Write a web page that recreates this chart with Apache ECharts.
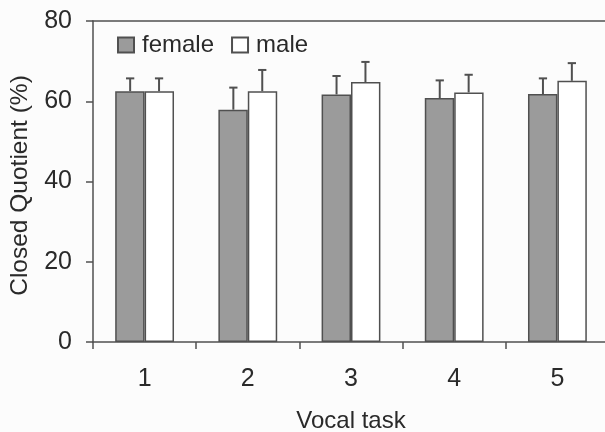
<!DOCTYPE html>
<html>
<head>
<meta charset="utf-8">
<script src="https://cdn.jsdelivr.net/npm/echarts@6/dist/echarts.min.js"></script>
<style>
html,body{margin:0;padding:0;background:#fcfcfc;}
#c{width:605px;height:432px;}
</style>
</head>
<body>
<div id="c"></div>
<script>
const categories = ['1', '2', '3', '4', '5'];
const femaleMean = [62.5, 57.9, 61.7, 60.8, 61.8];
const femaleSD = [3.2, 5.5, 4.6, 4.4, 3.9];
const maleMean = [62.5, 62.5, 64.8, 62.2, 65.1];
const maleSD = [3.2, 5.3, 5.0, 4.4, 4.4];
const yTicks = [0, 20, 40, 60, 80];

const FONT = '"Liberation Sans", Arial, sans-serif';
const TXT = '#2a2a2a';
const LINE = '#505050';

function errItems(mean, sd) {
  return mean.map((m, i) => [i, m, sd[i]]);
}
function makeErr(sign) {
  return function (params, api) {
    const idx = api.value(0), m = api.value(1), s = api.value(2);
    const band = api.size([1, 0])[0];
    const base = api.coord([idx, m]);
    const top = api.coord([idx, m + s]);
    const x = base[0] + sign * band * 0.14;
    const cap = band * 0.04;
    return {
      type: 'group',
      children: [
        { type: 'line', shape: { x1: x, y1: base[1], x2: x, y2: top[1] }, style: { stroke: LINE, lineWidth: 2 } },
        { type: 'line', shape: { x1: x - cap, y1: top[1], x2: x + cap, y2: top[1] }, style: { stroke: LINE, lineWidth: 2 } }
      ]
    };
  };
}

const chart = echarts.init(document.getElementById('c'));
chart.setOption({
  backgroundColor: '#fcfcfc',
  animation: false,
  textStyle: { fontFamily: FONT, color: TXT },
  legend: {
    data: ['female', 'male'],
    left: 117, top: 33, padding: 0,
    itemWidth: 16, itemHeight: 15, itemGap: 17,
    icon: 'rect',
    textStyle: { fontSize: 24, lineHeight: 24, color: TXT, fontFamily: FONT, padding: [0, 0, 0, 3] }
  },
  grid: { left: 93, right: -4, top: 21, bottom: 90, containLabel: false, outerBoundsMode: 'none' },
  xAxis: [{
    type: 'category', data: categories, position: 'bottom',
    name: 'Vocal task', nameLocation: 'middle', nameGap: 67,
    nameTextStyle: { fontSize: 24, color: TXT, fontFamily: FONT },
    axisLine: { lineStyle: { color: LINE, width: 1.5 } },
    axisTick: { show: true, length: 7, lineStyle: { color: LINE, width: 1.5 } },
    axisLabel: { fontSize: 25, color: TXT, margin: 25, fontFamily: FONT }
  }, {
    type: 'category', data: categories, position: 'top',
    axisLine: { lineStyle: { color: LINE, width: 1.5 } },
    axisTick: { show: false }, axisLabel: { show: false }
  }],
  yAxis: {
    type: 'value', min: yTicks[0], max: yTicks[yTicks.length - 1], interval: 20,
    name: 'Closed Quotient (%)', nameLocation: 'middle', nameGap: 60,
    nameTextStyle: { fontSize: 24.5, color: TXT, fontFamily: FONT, padding: [0, 8, 0, 0] },
    axisLine: { show: true, lineStyle: { color: LINE, width: 1.5 } },
    axisTick: { show: true, length: 7, lineStyle: { color: LINE, width: 1.5 } },
    axisLabel: { fontSize: 25, color: TXT, margin: 21, fontFamily: FONT },
    splitLine: { show: false }
  },
  series: [
    {
      name: 'female', type: 'bar', data: femaleMean, barWidth: '28.5%', barGap: '0%',
      itemStyle: { color: '#9b9b9b', borderColor: LINE, borderWidth: 1.5 }
    },
    {
      name: 'male', type: 'bar', data: maleMean, barWidth: '28.5%', barGap: '0%',
      itemStyle: { color: '#ffffff', borderColor: LINE, borderWidth: 1.5 }
    },
    {
      type: 'custom', renderItem: makeErr(-1), data: errItems(femaleMean, femaleSD),
      encode: { x: 0, y: 1 }, z: 5
    },
    {
      type: 'custom', renderItem: makeErr(1), data: errItems(maleMean, maleSD),
      encode: { x: 0, y: 1 }, z: 5
    }
  ]
});
</script>
</body>
</html>
